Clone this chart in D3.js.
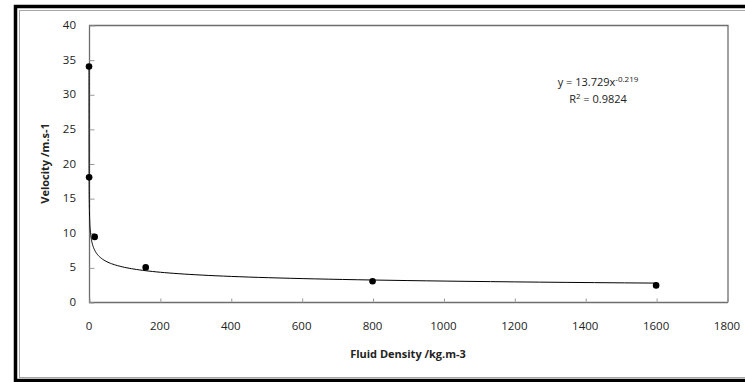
<!DOCTYPE html>
<html>
<head>
<meta charset="utf-8">
<script src="https://cdn.jsdelivr.net/npm/d3@7"></script>
<style>
  body { margin: 0; background: #fff; }
  svg { display: block; font-family: "Open Sans", sans-serif; }
</style>
</head>
<body>
<div id="chart"></div>
<script>
// measured points (fluid density, velocity)
const density = [0.016, 0.3, 16, 160, 800, 1600];
const velocity = [34, 18, 9.4, 5, 3, 2.4];
const xTicks = [0, 200, 400, 600, 800, 1000, 1200, 1400, 1600, 1800];
const yTicks = [0, 5, 10, 15, 20, 25, 30, 35, 40];
// power trendline shown on the chart: y = a * x^b
const trendA = 13.729;
const trendB = -0.219;
const rSquared = "0.9824";

const W = 745, H = 382;
const margin = {top: 25, right: 18, bottom: 80, left: 89};

const svg = d3.select("#chart").append("svg")
    .attr("width", W)
    .attr("height", H);

// outer frame: thick black + thin grey inner line
svg.append("rect")
    .attr("x", 15.5).attr("y", 6.5)
    .attr("width", W + 10).attr("height", 374)
    .attr("fill", "none").attr("stroke", "#000").attr("stroke-width", 3.5);
svg.append("rect")
    .attr("x", 19.5).attr("y", 10.5)
    .attr("width", W + 10).attr("height", 367)
    .attr("fill", "none").attr("stroke", "#a6a6a6").attr("stroke-width", 1);

const x = d3.scaleLinear().domain([0, 1800]).range([margin.left, W - margin.right]);
const y = d3.scaleLinear().domain([0, 40]).range([H - margin.bottom, margin.top]);

// plot area border
svg.append("path")
    .attr("d", `M${x(0) + 0.5},${y(40)}V${y(0) + 0.5}H${x(1800) + 1}M${x(0)},${y(40) + 0.5}H${x(1800) + 1}V${y(0)}`)
    .attr("fill", "none").attr("stroke", "#6e6e6e").attr("stroke-width", 1.3);

// axes with inside ticks
const xAxis = svg.append("g")
    .attr("transform", `translate(0.5,${y(0) + 0.5})`)
    .call(d3.axisTop(x).tickValues(xTicks).tickSize(4).tickFormat(""));
xAxis.select(".domain").remove();
xAxis.selectAll("line").attr("stroke", "#9a9a9a");

const yAxis = svg.append("g")
    .attr("transform", `translate(${x(0) + 0.5},0.5)`)
    .call(d3.axisRight(y).tickValues(yTicks).tickSize(5).tickFormat(""));
yAxis.select(".domain").remove();
yAxis.selectAll("line").attr("stroke", "#9a9a9a");

// tick labels
svg.append("g").selectAll("text").data(xTicks).join("text")
    .attr("x", d => x(d))
    .attr("y", 330)
    .attr("text-anchor", "middle")
    .attr("font-size", 11.5)
    .attr("fill", "#222")
    .text(d => d);

svg.append("g").selectAll("text").data(yTicks).join("text")
    .attr("x", 76)
    .attr("y", d => y(d) + 4)
    .attr("text-anchor", "end")
    .attr("font-size", 11.5)
    .attr("fill", "#222")
    .text(d => d);

// axis titles
svg.append("text")
    .attr("x", 408).attr("y", 358)
    .attr("text-anchor", "middle")
    .attr("font-size", 11)
    .attr("font-weight", "bold")
    .attr("fill", "#222")
    .text("Fluid Density /kg.m-3");

svg.append("text")
    .attr("transform", `translate(49,${(y(0) + y(40)) / 2}) rotate(-90)`)
    .attr("text-anchor", "middle")
    .attr("font-size", 11)
    .attr("font-weight", "bold")
    .attr("fill", "#222")
    .text("Velocity /m.s-1");

// trendline across the data range
const trendX = d3.range(0, 201).map(i => {
  const lo = Math.log(d3.min(density)), hi = Math.log(d3.max(density));
  return Math.exp(lo + (hi - lo) * i / 200);
});
svg.append("path")
    .datum(trendX)
    .attr("fill", "none")
    .attr("stroke", "#000")
    .attr("stroke-width", 1)
    .attr("d", d3.line().x(d => x(d)).y(d => y(trendA * Math.pow(d, trendB))));

// data points
svg.append("g").selectAll("circle").data(density).join("circle")
    .attr("cx", d => x(d))
    .attr("cy", (d, i) => y(velocity[i]))
    .attr("r", 3.3)
    .attr("fill", "#000");

// equation label
const eq = svg.append("text")
    .attr("x", 598).attr("y", 86)
    .attr("text-anchor", "middle")
    .attr("font-size", 11)
    .attr("fill", "#222");
eq.append("tspan").text(`y = ${trendA}x`);
eq.append("tspan").attr("dy", -4).attr("font-size", 8).text(trendB.toFixed(3));

const r2 = svg.append("text")
    .attr("x", 598).attr("y", 103)
    .attr("text-anchor", "middle")
    .attr("font-size", 11)
    .attr("fill", "#222");
r2.append("tspan").text("R");
r2.append("tspan").attr("dy", -4).attr("font-size", 8).text("2");
r2.append("tspan").attr("dy", 4).text(` = ${rSquared}`);
</script>
</body>
</html>
